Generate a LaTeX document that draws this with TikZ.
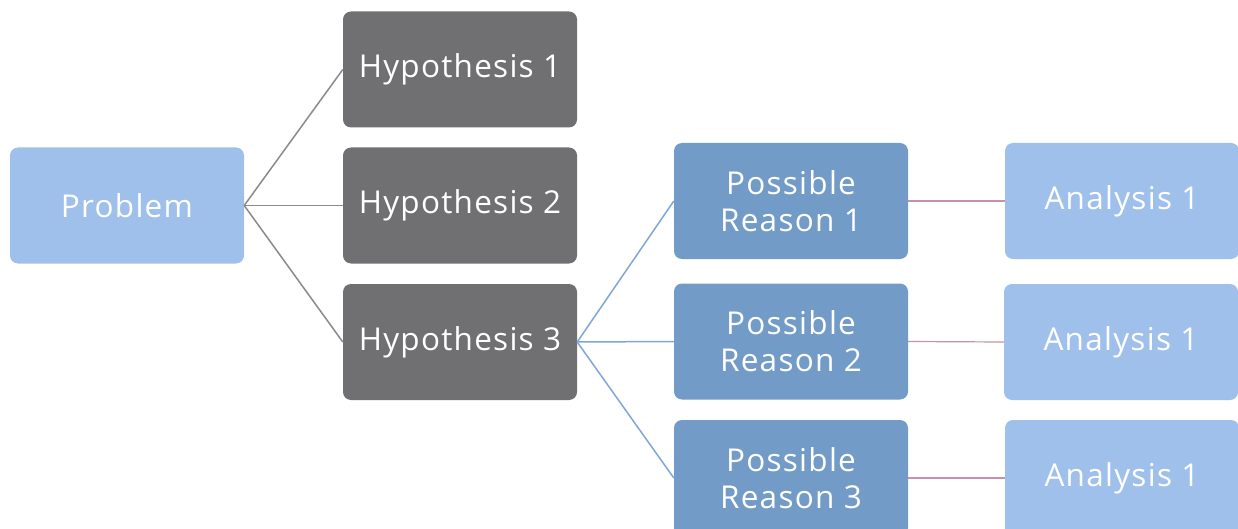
\documentclass[tikz,border=0pt]{standalone}
\usepackage{fontspec}
\setmainfont[LetterSpace=4]{Open Sans}
\definecolor{lightblue}{HTML}{9FC0EA}
\definecolor{midblue}{HTML}{729BC7}
\definecolor{darkgray}{HTML}{707072}
\definecolor{graylink}{HTML}{8A8A8A}
\definecolor{bluelink}{HTML}{7FA6D6}
\definecolor{pinklink}{HTML}{C890AC}
\begin{document}
\begin{tikzpicture}[x=1pt,y=-1pt,
  box/.style={rectangle, rounded corners=8pt, minimum width=234pt, minimum height=116pt,
    inner sep=0pt, text=white, align=center, font=\fontsize{31.5}{37}\selectfont},
  probbox/.style={box, fill=lightblue},
  hypbox/.style={box, fill=darkgray},
  reasonbox/.style={box, fill=midblue},
  anabox/.style={box, fill=lightblue},
  glink/.style={draw=graylink, line width=1.5pt},
  blink/.style={draw=bluelink, line width=1.5pt},
  plink/.style={draw=pinklink, line width=1.2pt}]
\useasboundingbox (0,0) rectangle (1238,529);
\node[probbox] (prob) at (127,205.5) {Problem};
\node[hypbox] (h1) at (460,69.5) {Hypothesis 1};
\node[hypbox] (h2) at (460,205.5) {Hypothesis 2};
\node[hypbox] (h3) at (460,342) {Hypothesis 3};
\node[reasonbox] (r1) at (791,201) {Possible\\Reason 1};
\node[reasonbox] (r2) at (791,341.5) {Possible\\Reason 2};
\node[reasonbox] (r3) at (791,478) {Possible\\Reason 3};
\node[anabox] (a1) at (1122,201) {Analysis 1};
\node[anabox] (a2) at (1121,342) {Analysis 1};
\node[anabox] (a3) at (1122,478) {Analysis 1};
\draw[glink] (prob.east) -- (h1.west);
\draw[glink] (prob.east) -- (h2.west);
\draw[glink] (prob.east) -- (h3.west);
\draw[blink] (h3.east) -- (r1.west);
\draw[blink] (h3.east) -- (r2.west);
\draw[blink] (h3.east) -- (r3.west);
\draw[plink] (r1.east) -- (a1.west);
\draw[plink] (r2.east) -- (a2.west);
\draw[plink] (r3.east) -- (a3.west);
\end{tikzpicture}
\end{document}
